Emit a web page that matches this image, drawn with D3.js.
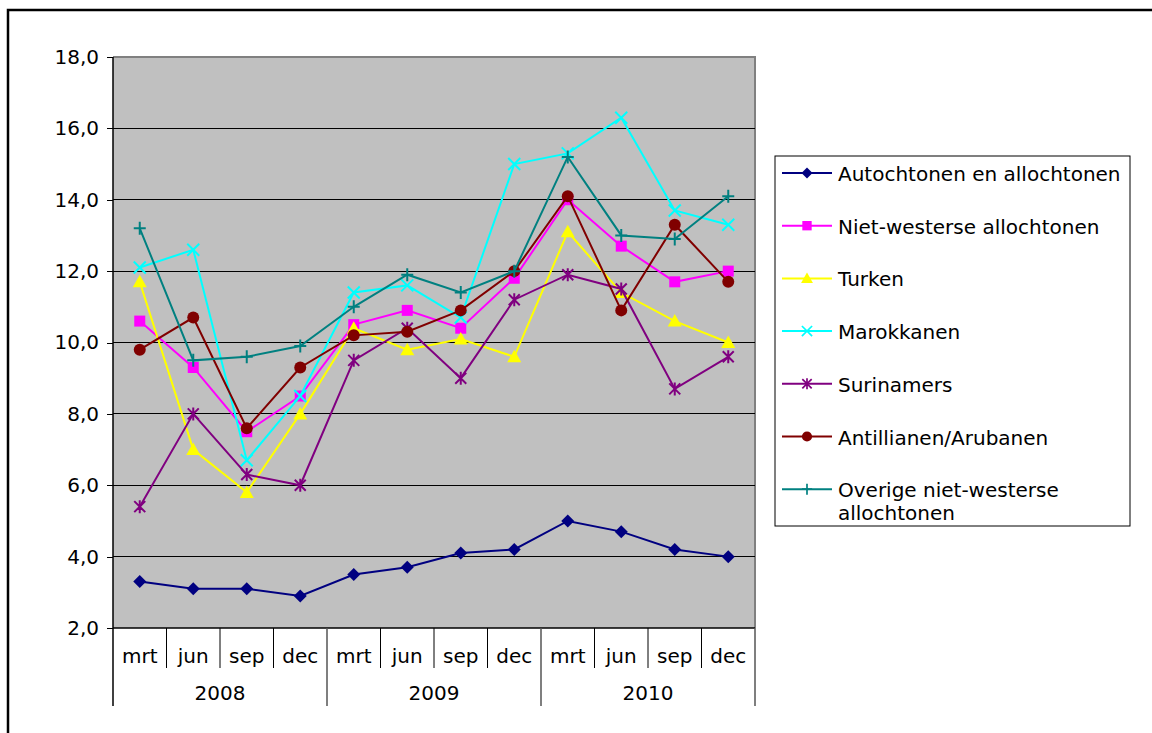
<!doctype html>
<html>
<head>
<meta charset="utf-8">
<script src="https://d3js.org/d3.v7.min.js"></script>
<style>
  body { margin: 0; background: #fff; }
  text { font-family: "DejaVu Sans", Verdana, sans-serif; fill: #000; }
</style>
</head>
<body>
<script>
// category labels
var months = ["mrt", "jun", "sep", "dec", "mrt", "jun", "sep", "dec", "mrt", "jun", "sep", "dec"];
var years = ["2008", "2009", "2010"];
var yTicks = [2, 4, 6, 8, 10, 12, 14, 16, 18];

// series values
var autochtonen = [3.3, 3.1, 3.1, 2.9, 3.5, 3.7, 4.1, 4.2, 5.0, 4.7, 4.2, 4.0];
var nietWesters = [10.6, 9.3, 7.5, 8.5, 10.5, 10.9, 10.4, 11.8, 14.0, 12.7, 11.7, 12.0];
var turken = [11.7, 7.0, 5.8, 8.0, 10.4, 9.8, 10.1, 9.6, 13.1, 11.4, 10.6, 10.0];
var marokkanen = [12.1, 12.6, 6.7, 8.5, 11.4, 11.6, 10.7, 15.0, 15.3, 16.3, 13.7, 13.3];
var surinamers = [5.4, 8.0, 6.3, 6.0, 9.5, 10.4, 9.0, 11.2, 11.9, 11.5, 8.7, 9.6];
var antillianen = [9.8, 10.7, 7.6, 9.3, 10.2, 10.3, 10.9, 12.0, 14.1, 10.9, 13.3, 11.7];
var overige = [13.2, 9.5, 9.6, 9.9, 11.0, 11.9, 11.4, 12.0, 15.2, 13.0, 12.9, 14.1];

var series = [
  {name: ["Autochtonen en allochtonen"], values: autochtonen, color: "#000080", marker: "diamond"},
  {name: ["Niet-westerse allochtonen"], values: nietWesters, color: "#ff00ff", marker: "square"},
  {name: ["Turken"], values: turken, color: "#ffff00", marker: "triangle"},
  {name: ["Marokkanen"], values: marokkanen, color: "#00ffff", marker: "x"},
  {name: ["Surinamers"], values: surinamers, color: "#800080", marker: "asterisk"},
  {name: ["Antillianen/Arubanen"], values: antillianen, color: "#800000", marker: "circle"},
  {name: ["Overige niet-westerse", "allochtonen"], values: overige, color: "#008080", marker: "plus"}
];

var W = 1152, H = 733;
var pLeft = 113, pRight = 755, pTop = 57, pBottom = 628;

var svg = d3.select("body").append("svg").attr("width", W).attr("height", H);

// outer frame (right/bottom edges fall outside the picture)
svg.append("rect").attr("x", 8).attr("y", 10).attr("width", 1300).attr("height", 900)
  .attr("fill", "none").attr("stroke", "#000").attr("stroke-width", 2.5);

var x = d3.scaleBand().domain(d3.range(months.length)).range([pLeft, pRight]);
var y = d3.scaleLinear().domain([2, 18]).range([pBottom, pTop]);
var cx = i => x(i) + x.bandwidth() / 2;

// plot area
svg.append("rect").attr("x", pLeft).attr("y", pTop).attr("width", pRight - pLeft).attr("height", pBottom - pTop)
  .attr("fill", "#c0c0c0");
svg.append("path").attr("d", "M" + pLeft + "," + pTop + "H" + pRight + "V" + pBottom)
  .attr("fill", "none").attr("stroke", "#808080").attr("stroke-width", 2);

// gridlines
svg.append("g").selectAll("line").data(yTicks.slice(1, -1)).enter().append("line")
  .attr("x1", pLeft).attr("x2", pRight).attr("y1", d => y(d)).attr("y2", d => y(d))
  .attr("stroke", "#000").attr("stroke-width", 1).attr("shape-rendering", "crispEdges");

// y axis
var yAxis = d3.axisLeft(y).tickValues(yTicks).tickSize(6).tickPadding(8)
  .tickFormat(d => d3.format(".1f")(d).replace(".", ","));
var gy = svg.append("g").attr("transform", "translate(" + pLeft + ",0)").call(yAxis);
gy.select(".domain").remove();
gy.selectAll("line").attr("stroke", "#000").attr("shape-rendering", "crispEdges");
gy.selectAll("text").style("font-size", "20px").attr("font-family", null);
gy.attr("font-family", null).attr("font-size", null);
svg.append("line").attr("x1", pLeft).attr("x2", pLeft).attr("y1", pTop).attr("y2", 706)
  .attr("stroke", "#000").attr("stroke-width", 1.5);

// x axis: baseline, month separators, year separators
svg.append("line").attr("x1", pLeft).attr("x2", pRight).attr("y1", pBottom).attr("y2", pBottom)
  .attr("stroke", "#000").attr("stroke-width", 1.5);
var gx = svg.append("g");
d3.range(1, months.length + 1).forEach(function (i) {
  var xx = i < months.length ? x(i) : pRight;
  var isYear = i % 4 === 0;
  gx.append("line").attr("x1", xx).attr("x2", xx).attr("y1", pBottom).attr("y2", isYear ? 706 : 668)
    .attr("stroke", isYear ? "#555" : "#000").attr("stroke-width", isYear ? 1.5 : 1);
});
gx.selectAll("text.m").data(months).enter().append("text").attr("class", "m")
  .attr("x", (d, i) => cx(i)).attr("y", 663)
  .attr("text-anchor", "middle").style("font-size", "20px").text(d => d);
gx.selectAll("text.yr").data(years).enter().append("text").attr("class", "yr")
  .attr("x", (d, i) => x(i * 4) + x.bandwidth() * 2).attr("y", 700)
  .attr("text-anchor", "middle").style("font-size", "20px").text(d => d);

// marker shapes
function markerPath(type) {
  var p = d3.path();
  if (type === "diamond") { p.moveTo(0, -6.5); p.lineTo(6.5, 0); p.lineTo(0, 6.5); p.lineTo(-6.5, 0); p.closePath(); }
  else if (type === "square") { p.rect(-5.5, -5.5, 11, 11); }
  else if (type === "triangle") { p.moveTo(0, -7); p.lineTo(7, 5.5); p.lineTo(-7, 5.5); p.closePath(); }
  else if (type === "circle") { p.arc(0, 0, 6, 0, 2 * Math.PI); }
  else if (type === "x") { p.moveTo(-6, -6); p.lineTo(6, 6); p.moveTo(6, -6); p.lineTo(-6, 6); }
  else if (type === "asterisk") { p.moveTo(-5.5, -5.5); p.lineTo(5.5, 5.5); p.moveTo(5.5, -5.5); p.lineTo(-5.5, 5.5); p.moveTo(0, -6.5); p.lineTo(0, 6.5); }
  else if (type === "plus") { p.moveTo(-6, 0); p.lineTo(6, 0); p.moveTo(0, -6.5); p.lineTo(0, 6.5); }
  return p.toString();
}
var stroked = {x: 1, asterisk: 1, plus: 1};

function drawMarker(g, s) {
  var m = g.append("path").attr("d", markerPath(s.marker));
  if (stroked[s.marker]) m.attr("fill", "none").attr("stroke", s.color).attr("stroke-width", 2);
  else m.attr("fill", s.color).attr("stroke", "none");
  return m;
}

var line = d3.line().x((d, i) => cx(i)).y(d => y(d));

series.forEach(function (s) {
  var g = svg.append("g");
  g.append("path").attr("d", line(s.values)).attr("fill", "none")
    .attr("stroke", s.color).attr("stroke-width", 2);
  s.values.forEach(function (v, i) {
    var mg = g.append("g").attr("transform", "translate(" + cx(i) + "," + y(v) + ")");
    drawMarker(mg, s);
  });
});

// legend
var lg = svg.append("g");
lg.append("rect").attr("x", 775).attr("y", 156).attr("width", 355).attr("height", 370)
  .attr("fill", "#fff").attr("stroke", "#000").attr("stroke-width", 1);
series.forEach(function (s, i) {
  var ly = 173 + i * 52.7;
  var row = lg.append("g").attr("transform", "translate(0," + ly + ")");
  row.append("line").attr("x1", 782).attr("x2", 832).attr("y1", 0).attr("y2", 0)
    .attr("stroke", s.color).attr("stroke-width", 2);
  var mg = row.append("g").attr("transform", "translate(807,0) scale(0.85)");
  drawMarker(mg, s);
  s.name.forEach(function (t, j) {
    row.append("text").attr("x", 838).attr("y", 8 + j * 23).style("font-size", "20px").text(t);
  });
});
</script>
</body>
</html>
